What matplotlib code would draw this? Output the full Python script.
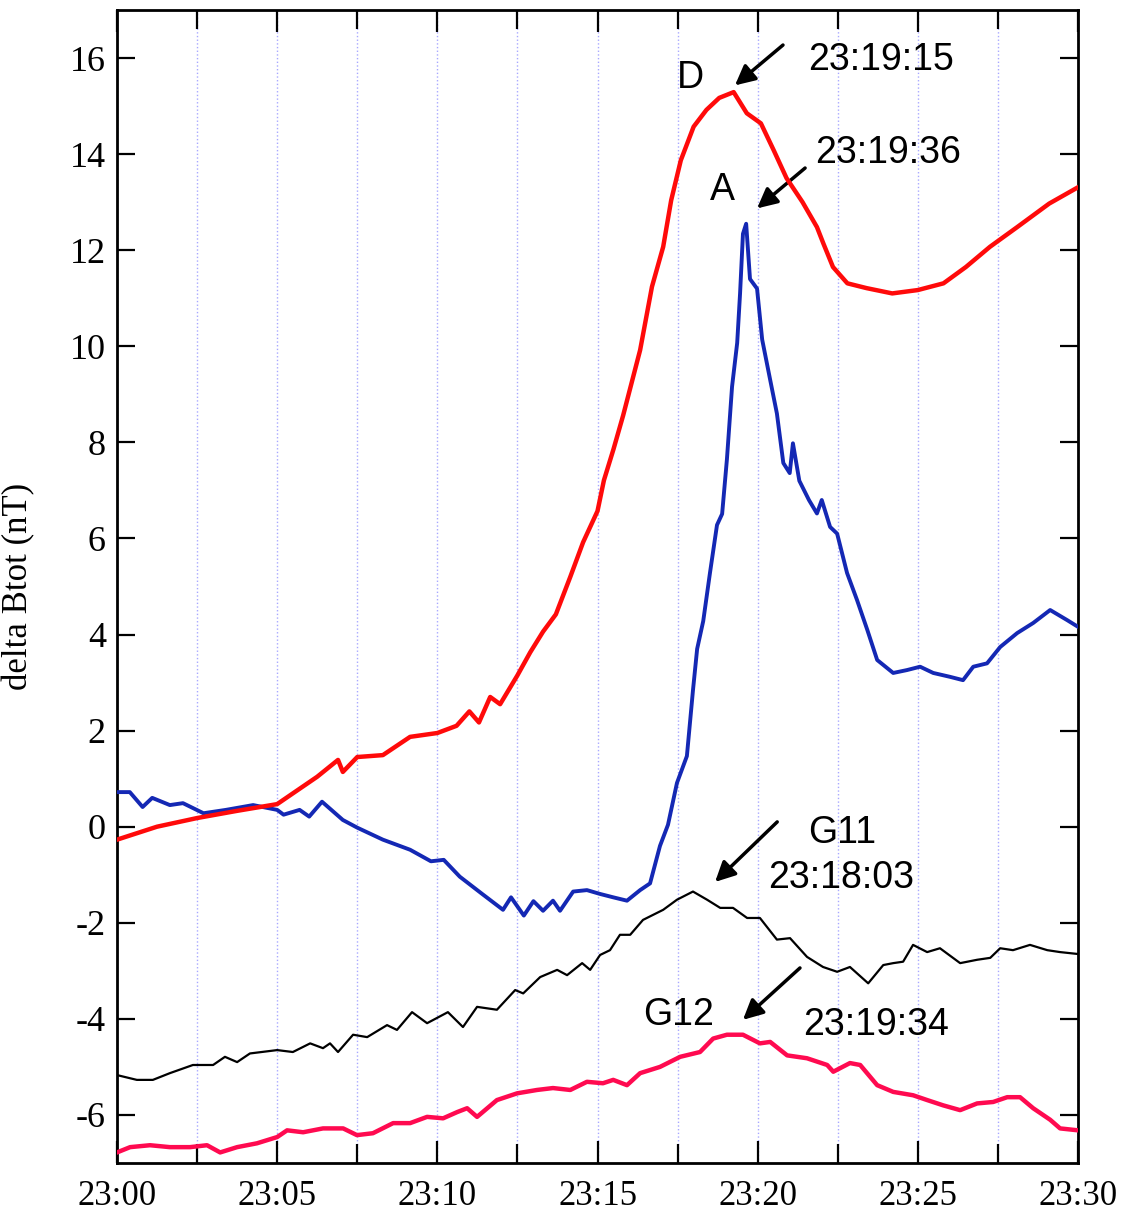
"""
Visualization of delta Btot for the D, A, G11 and G12 spacecraft
"""

#=================================================
#IMPORTS
#=================================================
import numpy as np;
import matplotlib;
matplotlib.use('Agg');
from matplotlib import pyplot as plt;

#=================================================
#DATA (minutes after 23:00, delta Btot in nT)
#=================================================
t_D = [0, 1.25, 2.5, 3.75, 5.0, 6.25, 6.9, 7.05, 7.5, 8.3,
       9.15, 10.0, 10.6, 11.0, 11.3, 11.65, 11.96, 12.5, 12.9, 13.3,
       13.7, 14.15, 14.55, 15.0, 15.2, 15.5, 15.8, 16.33, 16.7, 17.05,
       17.3, 17.6, 18.0, 18.4, 18.8, 19.25, 19.66, 20.1, 20.5, 20.9,
       21.4, 21.85, 22.05, 22.35, 22.8, 23.4, 24.2, 25.0, 25.8, 26.5,
       27.25, 28.1, 29.1, 30.0];
B_D = [-0.27, 0.0, 0.18, 0.33, 0.47, 1.04, 1.39, 1.14, 1.45, 1.49,
       1.87, 1.95, 2.1, 2.4, 2.17, 2.7, 2.55, 3.15, 3.63, 4.06,
       4.42, 5.2, 5.92, 6.57, 7.21, 7.86, 8.56, 9.92, 11.24, 12.07,
       13.04, 13.87, 14.57, 14.92, 15.17, 15.29, 14.85, 14.64, 14.08, 13.5,
       13.0, 12.48, 12.14, 11.65, 11.31, 11.21, 11.1, 11.17, 11.31, 11.65,
       12.07, 12.48, 12.97, 13.31];

t_A = [0, 0.4, 0.8, 1.1, 1.65, 2.06, 2.7, 3.4, 4.25, 5.0,
       5.2, 5.7, 6.0, 6.4, 7.05, 7.5, 8.3, 9.15, 9.8, 10.2,
       10.7, 11.4, 12.05, 12.3, 12.7, 13.0, 13.3, 13.61, 13.83, 14.24,
       14.67, 15.08, 15.49, 15.92, 16.33, 16.64, 16.95, 17.2, 17.48, 17.79,
       17.98, 18.11, 18.3, 18.51, 18.73, 18.89, 19.04, 19.2, 19.36, 19.45,
       19.54, 19.64, 19.76, 19.98, 20.14, 20.39, 20.6, 20.8, 21.0, 21.1,
       21.3, 21.6, 21.85, 22.0, 22.26, 22.48, 22.79, 23.1, 23.42, 23.73,
       24.23, 24.66, 25.07, 25.48, 26.0, 26.41, 26.73, 27.16, 27.57, 28.1,
       28.6, 29.13, 29.66, 30.0];
B_A = [0.72, 0.72, 0.41, 0.6, 0.45, 0.49, 0.28, 0.35, 0.45, 0.35,
       0.25, 0.35, 0.21, 0.52, 0.14, -0.02, -0.27, -0.48, -0.72, -0.69,
       -1.04, -1.4, -1.73, -1.47, -1.85, -1.55, -1.75, -1.54, -1.75, -1.35,
       -1.32, -1.4, -1.47, -1.54, -1.32, -1.18, -0.4, 0.04, 0.91, 1.47,
       2.84, 3.7, 4.28, 5.28, 6.28, 6.51, 7.65, 9.16, 10.07, 11.1,
       12.34, 12.55, 11.4, 11.2, 10.14, 9.3, 8.6, 7.57, 7.36, 7.98,
       7.2, 6.8, 6.52, 6.8, 6.24, 6.1, 5.28, 4.72, 4.1, 3.47,
       3.2, 3.26, 3.33, 3.2, 3.12, 3.05, 3.33, 3.4, 3.74, 4.03,
       4.24, 4.51, 4.3, 4.16];

t_G11 = [0, 0.62, 1.12, 1.65, 2.37, 3.0, 3.37, 3.75, 4.15, 5.0,
         5.49, 6.03, 6.43, 6.65, 6.9, 7.37, 7.81, 8.43, 8.74, 9.21,
         9.68, 10.33, 10.8, 11.24, 11.86, 12.43, 12.68, 13.21, 13.74, 14.05,
         14.52, 14.77, 15.08, 15.39, 15.7, 16.02, 16.42, 17.05, 17.48, 17.98,
         18.42, 18.83, 19.23, 19.67, 20.07, 20.6, 21.01, 21.54, 22.04, 22.48,
         22.88, 23.45, 23.92, 24.23, 24.54, 24.85, 25.29, 25.69, 26.32, 26.85,
         27.26, 27.57, 27.97, 28.5, 29.04, 29.44, 30.0];
B_G11 = [-5.17, -5.27, -5.27, -5.13, -4.96, -4.96, -4.79, -4.9, -4.72, -4.65,
         -4.69, -4.51, -4.61, -4.51, -4.69, -4.33, -4.38, -4.13, -4.23, -3.86,
         -4.09, -3.86, -4.17, -3.75, -3.81, -3.4, -3.47, -3.13, -2.98, -3.09,
         -2.84, -2.98, -2.67, -2.57, -2.25, -2.25, -1.94, -1.73, -1.52, -1.35,
         -1.52, -1.69, -1.69, -1.9, -1.9, -2.35, -2.32, -2.71, -2.92, -3.02,
         -2.92, -3.26, -2.88, -2.84, -2.81, -2.46, -2.61, -2.53, -2.84, -2.77,
         -2.73, -2.53, -2.57, -2.46, -2.57, -2.61, -2.65];

t_G12 = [0, 0.41, 1.03, 1.65, 2.28, 2.81, 3.22, 3.75, 4.37, 5.0,
         5.31, 5.81, 6.43, 7.06, 7.49, 7.99, 8.62, 9.15, 9.68, 10.18,
         10.62, 10.93, 11.24, 11.86, 12.49, 13.11, 13.61, 14.15, 14.67, 15.17,
         15.49, 15.92, 16.33, 16.95, 17.58, 18.2, 18.61, 19.04, 19.54, 20.07,
         20.39, 20.92, 21.54, 22.17, 22.36, 22.88, 23.2, 23.73, 24.23, 24.85,
         25.29, 25.79, 26.32, 26.85, 27.35, 27.79, 28.19, 28.6, 29.13, 29.44,
         30.0];
B_G12 = [-6.78, -6.67, -6.63, -6.67, -6.67, -6.63, -6.78, -6.67, -6.59, -6.46,
         -6.32, -6.36, -6.28, -6.28, -6.42, -6.38, -6.17, -6.17, -6.04, -6.07,
         -5.94, -5.86, -6.04, -5.69, -5.55, -5.48, -5.44, -5.48, -5.31, -5.34,
         -5.27, -5.38, -5.13, -5.0, -4.79, -4.69, -4.41, -4.33, -4.33, -4.51,
         -4.48, -4.76, -4.82, -4.96, -5.1, -4.92, -4.96, -5.38, -5.52, -5.59,
         -5.69, -5.8, -5.9, -5.76, -5.73, -5.63, -5.63, -5.86, -6.1, -6.28,
         -6.32];

x_ticks = [0, 5, 10, 15, 20, 25, 30];
x_ticklabels = ['23:00', '23:05', '23:10', '23:15', '23:20', '23:25', '23:30'];
y_ticks = [-6, -4, -2, 0, 2, 4, 6, 8, 10, 12, 14, 16];

#=================================================
#PLOT
#=================================================
plt.rcParams['axes.unicode_minus'] = False;
plt.rcParams['font.family'] = 'Liberation Serif';

fig = plt.figure(figsize=(11.26, 12.15), dpi=100);
ax = fig.add_axes([0.1039, 0.0428, 0.8535, 0.949]);

ax.plot(t_A, B_A, color='#1428b4', lw=2.8, zorder=3);
ax.plot(t_D, B_D, color='#ff0a0a', lw=3.2, zorder=4);
ax.plot(t_G11, B_G11, color='black', lw=1.6, zorder=3);
ax.plot(t_G12, B_G12, color='#ff0a50', lw=3.2, zorder=3);

ax.set_xlim(0, 30);
ax.set_ylim(-7, 17);

ax.set_xticks(x_ticks);
ax.set_xticklabels(x_ticklabels);
ax.set_xticks(np.arange(2.5, 30, 5), minor=True);
ax.set_yticks(y_ticks);

ax.tick_params(axis='x', which='major', direction='in', top=True, length=16, width=1.6,
               labelsize=25, pad=12);
ax.tick_params(axis='x', which='minor', direction='in', top=True, length=14, width=1.6);
ax.tick_params(axis='y', which='major', direction='in', right=True, length=13, width=1.6,
               labelsize=26, pad=8);

ax.grid(True, axis='x', which='both', color='#a8a8ff', ls=':', lw=1.0, zorder=0);
for s in ax.spines.values():
    s.set_linewidth(2.0);

ax.set_ylabel('delta Btot (nT)', fontsize=25);
ax.yaxis.set_label_coords(-0.085, 0.5);

#annotations
sans = 'Liberation Sans';
fs = 27;
arrow = dict(arrowstyle='-|>', color='black', lw=2.5, mutation_scale=30, shrinkA=0, shrinkB=0);

ax.text(17.89, 15.58, 'D', fontsize=fs, family=sans, ha='center', va='center');
ax.annotate('', xy=(19.29, 15.43), xytext=(20.79, 16.27), arrowprops=arrow);
ax.text(21.57, 15.96, '23:19:15', fontsize=fs, family=sans, ha='left', va='center');

ax.text(18.89, 13.25, 'A', fontsize=fs, family=sans, ha='center', va='center');
ax.annotate('', xy=(19.98, 12.87), xytext=(21.48, 13.71), arrowprops=arrow);
ax.text(21.79, 14.02, '23:19:36', fontsize=fs, family=sans, ha='left', va='center');

ax.text(22.64, -0.13, 'G11', fontsize=fs, family=sans, ha='center', va='center');
ax.annotate('', xy=(18.67, -1.15), xytext=(20.61, 0.1), arrowprops=arrow);
ax.text(20.32, -1.07, '23:18:03', fontsize=fs, family=sans, ha='left', va='center');

ax.text(17.52, -3.92, 'G12', fontsize=fs, family=sans, ha='center', va='center');
ax.annotate('', xy=(19.54, -4.02), xytext=(21.32, -2.94), arrowprops=arrow);
ax.text(21.42, -4.13, '23:19:34', fontsize=fs, family=sans, ha='left', va='center');

fig.savefig('out.png', dpi=100);
